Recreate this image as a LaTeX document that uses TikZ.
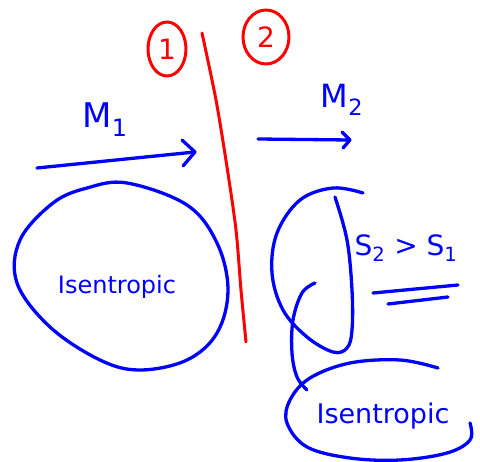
\documentclass[tikz,border=0pt]{standalone}
\usepackage{fontspec}
\setmainfont{DejaVu Sans}
\tikzset{
  ink/.style={draw=blue, line width=3.3pt, line cap=round, line join=round},
  redink/.style={draw=red, line width=3pt, line cap=round, line join=round},
  bluetxt/.style={text=blue, inner sep=0pt},
  redtxt/.style={text=red, inner sep=0pt}
}
\begin{document}
\begin{tikzpicture}[x=1pt,y=-1pt]
\useasboundingbox (0,0) rectangle (480,462);
% red divider
\coordinate (d1) at (202,33);
\coordinate (d2) at (246,342);
\draw[redink] plot[smooth] coordinates {(202,33) (216,100) (227,167) (236,230) (241,290) (246,342)};
% circled numbers
\node[redtxt, font=\fontsize{28}{28}\selectfont] (n1) at (167,49) {1};
\draw[redink] (n1) ellipse [x radius=19pt, y radius=27pt];
\node[redtxt, font=\fontsize{28}{28}\selectfont] (n2) at (266,37) {2};
\draw[redink] (n2) ellipse [x radius=23pt, y radius=27pt];
% arrow M1
\coordinate (a1s) at (37,168);
\coordinate (a1e) at (195,152);
\coordinate (a1u) at (182,140);
\coordinate (a1l) at (183,166);
\draw[ink] (a1s) -- (a1e);
\draw[ink] (a1u) -- (a1e) -- (a1l);
\node[bluetxt, font=\fontsize{34}{34}\selectfont] (m1) at (105,120) {M\textsubscript{1}};
% arrow M2
\coordinate (a2s) at (258,139);
\coordinate (a2e) at (350,140);
\coordinate (a2u) at (342,132);
\coordinate (a2l) at (343,148);
\draw[ink] (a2s) -- (a2e);
\draw[ink] (a2u) -- (a2e) -- (a2l);
\node[bluetxt, font=\fontsize{32}{32}\selectfont] (m2) at (342,100) {M\textsubscript{2}};
% left blob
\draw[ink] plot[smooth cycle, tension=0.6] coordinates {(127,183) (187,205) (217,243) (228,290) (217,333) (187,360) (140,370) (100,360) (50,327) (17,283) (20,240) (53,203) (87,188)};
\node[bluetxt, font=\fontsize{24}{24}\selectfont] (iso1) at (117,287) {Isentropic};
% right D shape
\draw[ink] plot[smooth, tension=0.6] coordinates {(363,193) (333,188) (300,200) (277,233) (272,273) (283,310) (307,337) (333,352) (347,348) (352,330) (352,290) (347,240) (335,197)};
% hook
\draw[ink] plot[smooth, tension=0.6] coordinates {(315,283) (302,293) (293,320) (292,353) (297,377) (307,390)};
% S2 > S1
\node[bluetxt, font=\fontsize{28}{28}\selectfont] (ineq) at (406,248) {S\textsubscript{2} > S\textsubscript{1}};
\coordinate (u1a) at (373,293);
\coordinate (u1b) at (458,285);
\coordinate (u2a) at (388,304);
\coordinate (u2b) at (448,297);
\draw[ink] (u1a) -- (u1b);
\draw[ink] (u2a) -- (u2b);
% bottom ellipse (open)
\draw[ink] plot[smooth, tension=0.6] coordinates {(438,368) (400,360) (350,363) (310,378) (290,400) (287,423) (307,447) (350,458) (400,460) (447,453) (470,440) (470,423)};
\node[bluetxt, font=\fontsize{27}{27}\selectfont] (iso2) at (383,416) {Isentropic};
\end{tikzpicture}
\end{document}
